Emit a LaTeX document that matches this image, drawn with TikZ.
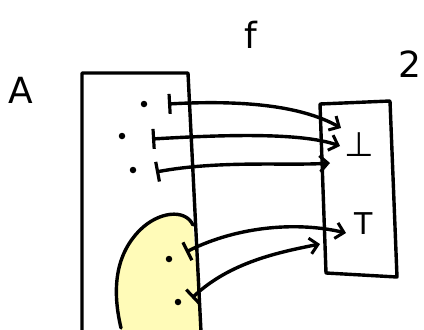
\documentclass[tikz,border=0pt]{standalone}
\usepackage{fontspec}
\setmainfont{DejaVu Sans}
\usetikzlibrary{arrows.meta}
\begin{document}
\begin{tikzpicture}[x=1pt,y=-1pt,
  ink/.style={line width=3.4pt,line cap=round,line join=round},
  mapsto/.style={ink,{Bar[width=20pt,line width=3.2pt]}-{Straight Barb[length=8pt,width=16pt,line width=3pt]}},
  pt/.style={circle,fill=black,inner sep=0pt,minimum size=6.5pt},
  lbl/.style={font=\fontsize{36}{40}\selectfont,inner sep=0pt}]
\useasboundingbox (0,0) rectangle (424,330);
% yellow blob
\fill[yellow!28] (121,330) .. controls (112,290) and (115,255) .. (140,230)
  .. controls (158,212) and (185,208) .. (193,225) -- (201,330) -- cycle;
\draw[ink] (121,328) .. controls (112,290) and (115,255) .. (140,230)
  .. controls (158,212) and (185,208) .. (193,225);
% set A
\draw[ink] (82,332) -- (82,73) -- (188,73) -- (201,332);
% set 2
\draw[ink] (320,104) -- (390,101) -- (397,277) -- (326,273) -- cycle;
% labels
\node[lbl] (A) at (21,90) {A};
\node[lbl] (f) at (251,35) {f};
\node[lbl] (two) at (410,64) {2};
\node[lbl,font=\fontsize{34}{38}\selectfont] (bot) at (359,145) {⊥};
\node[lbl,font=\fontsize{30}{34}\selectfont] (top) at (364,224) {T};
% elements
\node[pt] (a1) at (144,104) {};
\node[pt] (a2) at (122,136) {};
\node[pt] (a3) at (133,170) {};
\node[pt] (a4) at (169,259) {};
\node[pt] (a5) at (178,302) {};
\coordinate (s1) at (168,104);
\coordinate (s2) at (152,139);
\coordinate (s3) at (156,172);
\coordinate (s4) at (186,252);
\coordinate (s5) at (192,298);
\coordinate (t1) at (341,128);
\coordinate (t2) at (340,146);
\coordinate (t3) at (330,163);
\coordinate (t4) at (346,233);
\coordinate (t5) at (320,244);
\draw[mapsto] (s1) .. controls (240,100) and (300,105) .. (t1);
\draw[mapsto] (s2) .. controls (220,135) and (300,132) .. (t2);
\draw[mapsto] (s3) .. controls (220,160) and (290,166) .. (t3);
\draw[mapsto] (s4) .. controls (240,225) and (300,222) .. (t4);
\draw[mapsto] (s5) .. controls (230,262) and (280,252) .. (t5);
\end{tikzpicture}
\end{document}
